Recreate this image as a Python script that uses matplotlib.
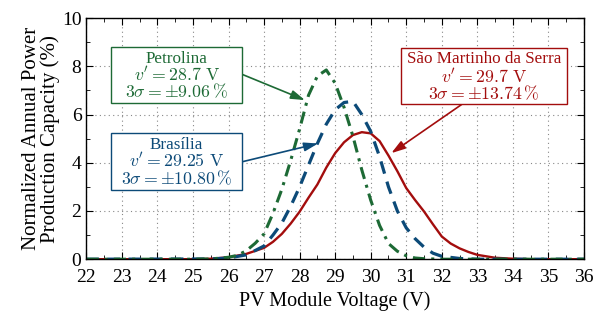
import matplotlib
matplotlib.use('Agg')
import matplotlib.pyplot as plt
import numpy as np

# PV module voltage samples (V) and normalized annual power production (%)
v_pet = [22, 25.0, 25.5, 26.0, 26.25, 26.5, 26.75, 27.0, 27.25, 27.5, 27.75, 28.0, 28.25, 28.5,
         28.75, 29.0, 29.25, 29.5, 29.75, 30.0, 30.25, 30.5, 30.75, 31.0, 31.25, 31.5, 32.0, 36]
p_pet = [0, 0, 0.01, 0.08, 0.16, 0.35, 0.66, 1.05, 1.9, 2.9, 4.1, 5.4, 6.8, 7.6,
         7.85, 7.3, 6.3, 5.1, 3.7, 2.45, 1.4, 0.65, 0.33, 0.14, 0.05, 0.02, 0, 0]

v_bra = [22, 25.5, 26.0, 26.5, 26.75, 27.0, 27.25, 27.5, 27.75, 28.0, 28.25, 28.5, 28.75, 29.0,
         29.25, 29.5, 29.75, 30.0, 30.25, 30.5, 30.75, 31.0, 31.25, 31.5, 31.75, 32.0, 32.5, 33.0, 36]
p_bra = [0, 0.01, 0.05, 0.18, 0.36, 0.55, 1.0, 1.5, 2.2, 3.0, 3.9, 4.8, 5.6, 6.2,
         6.5, 6.55, 6.0, 5.3, 4.25, 3.0, 2.0, 1.3, 0.85, 0.5, 0.25, 0.12, 0.03, 0, 0]

v_sms = [22, 25.0, 25.5, 26.0, 26.5, 27.0, 27.25, 27.5, 27.75, 28.0, 28.25, 28.5, 28.75, 29.0,
         29.25, 29.5, 29.75, 30.0, 30.25, 30.5, 30.75, 31.0, 31.25, 31.5, 31.75, 32.0, 32.25,
         32.5, 32.75, 33.0, 33.5, 34.0, 34.5, 36]
p_sms = [0, 0, 0.02, 0.08, 0.22, 0.47, 0.72, 1.05, 1.48, 1.97, 2.55, 3.1, 3.8, 4.4,
         4.85, 5.15, 5.27, 5.22, 4.9, 4.3, 3.65, 2.95, 2.45, 1.98, 1.45, 0.94, 0.65,
         0.45, 0.3, 0.18, 0.06, 0.02, 0, 0]

names = ['Petrolina', 'Brasília', 'São Martinho da Serra']
vprime = ['28.7', '29.25', '29.7']
three_sigma = ['9.06', '10.80', '13.74']

c_pet = '#1d6a35'
c_bra = '#0c4a78'
c_sms = '#a30d0d'

plt.rcParams['font.family'] = ['Liberation Serif', 'DejaVu Serif']
plt.rcParams['mathtext.fontset'] = 'cm'

fig = plt.figure(figsize=(6.08, 3.24), dpi=100)
ax = fig.add_axes([0.142, 0.2, 0.8185, 0.744])

ax.plot(v_sms, p_sms, '-', color=c_sms, lw=1.7)
ax.plot(v_bra, p_bra, '--', color=c_bra, lw=2.3, dashes=(4, 2.6))
ax.plot(v_pet, p_pet, '-.', color=c_pet, lw=2.2, dashes=(4, 2, 1, 2))

ax.set_xlim(22, 36)
ax.set_ylim(0, 10)
ax.set_xticks(np.arange(22, 37, 1))
ax.set_xticks(np.arange(22, 36.5, 0.5), minor=True)
ax.set_yticks([0, 2, 4, 6, 8, 10])
ax.set_yticks(np.arange(0, 11, 1), minor=True)
ax.tick_params(which='both', direction='in', top=True, right=True, labelsize=14)
ax.tick_params(axis='x', pad=7)
ax.tick_params(which='major', length=5)
ax.tick_params(which='minor', length=3)
for s in ax.spines.values():
    s.set_linewidth(1.0)
ax.grid(True, which='major', linestyle=(0, (1, 3)), color='#888888', lw=0.8)
ax.set_xlabel('PV Module Voltage (V)', fontsize=14.5, labelpad=4)
ax.set_ylabel('Normalized Annual Power\nProduction Capacity (%)', fontsize=15,
              linespacing=1.0, labelpad=1)

# annotation boxes (data coords): x0, x1, y0, y1 and line centres
boxes = [(22.70, 26.38, 6.46, 8.80), (22.70, 26.38, 2.87, 5.24), (30.86, 35.52, 6.42, 8.78)]
line_y = [(8.32, 7.63, 6.93), (4.75, 4.05, 3.33), (8.29, 7.57, 6.85)]
cols = [c_pet, c_bra, c_sms]
for (x0, x1, y0, y1), ly, col, nm, vp, ts in zip(boxes, line_y, cols, names, vprime, three_sigma):
    ax.add_patch(plt.Rectangle((x0, y0), x1 - x0, y1 - y0, fc='white', ec=col, lw=1.0, zorder=5))
    xc = (x0 + x1) / 2
    ax.text(xc, ly[0], nm, color=col, fontsize=12.3, ha='center', va='center', zorder=6)
    ax.text(xc, ly[1], r"$v' = %s\ \mathrm{V}$" % vp, color=col, fontsize=12.8,
            ha='center', va='center', zorder=6)
    ax.text(xc, ly[2], r'$3\sigma = \pm%s\,\%%$' % ts, color=col, fontsize=12.8,
            ha='center', va='center', zorder=6)

arr = dict(arrowstyle='-|>,head_length=0.7,head_width=0.22', lw=1.2, mutation_scale=12,
           shrinkA=0, shrinkB=0)
ax.annotate('', xy=(28.15, 6.6), xytext=(26.38, 7.67), arrowprops=dict(arr, color=c_pet))
ax.annotate('', xy=(28.52, 4.8), xytext=(26.38, 4.04), arrowprops=dict(arr, color=c_bra))
ax.annotate('', xy=(30.58, 4.4), xytext=(32.56, 6.42), arrowprops=dict(arr, color=c_sms))

fig.savefig('out.png', dpi=100)
